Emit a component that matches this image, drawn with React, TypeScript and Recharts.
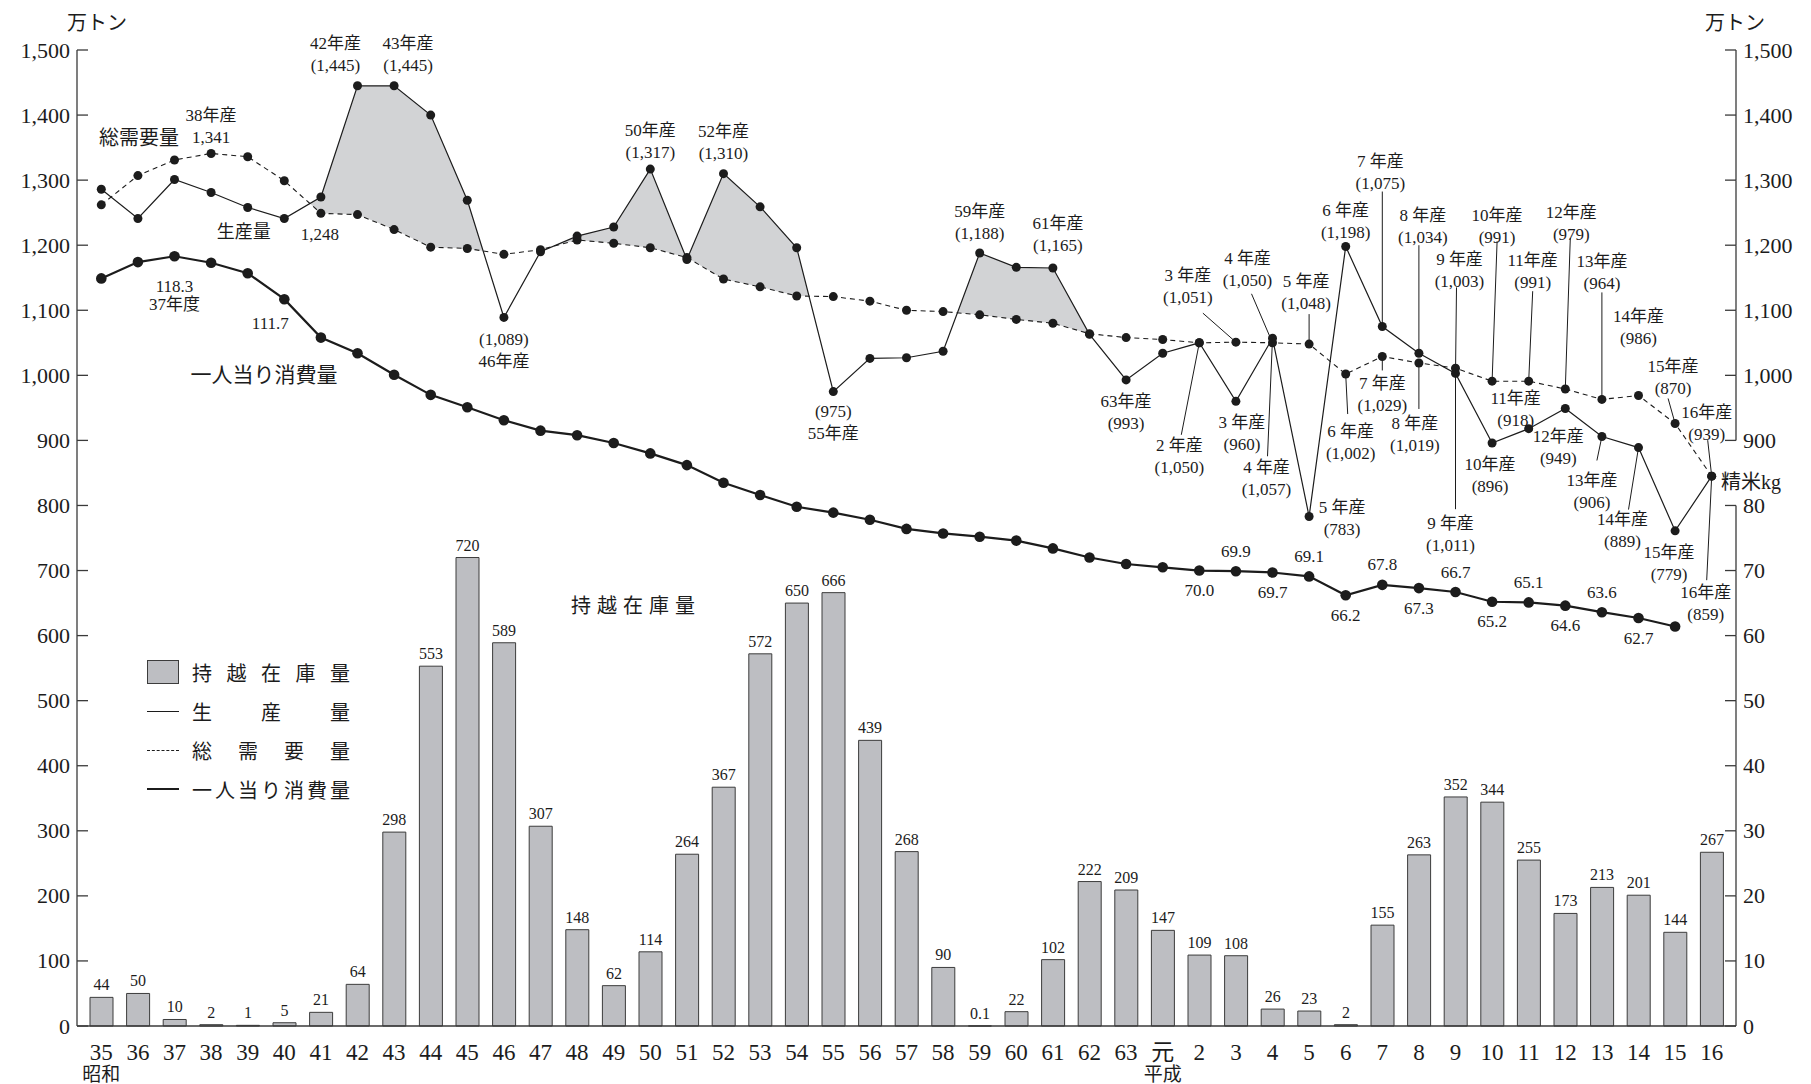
import React from "react";
import { ComposedChart, Bar, Line, Area, XAxis, YAxis, LabelList } from "recharts";

const YEARS = [
  "35", "36", "37", "38", "39", "40", "41", "42", "43", "44",
  "45", "46", "47", "48", "49", "50", "51", "52", "53", "54",
  "55", "56", "57", "58", "59", "60", "61", "62", "63",
  "元", "2", "3", "4", "5", "6", "7", "8", "9", "10",
  "11", "12", "13", "14", "15", "16",
];

// 持越在庫量 (万トン)
const STOCK = [
  44, 50, 10, 2, 1, 5, 21, 64, 298, 553,
  720, 589, 307, 148, 62, 114, 264, 367, 572, 650,
  666, 439, 268, 90, 0.1, 22, 102, 222, 209,
  147, 109, 108, 26, 23, 2, 155, 263, 352, 344,
  255, 173, 213, 201, 144, 267,
];

// 生産量 (万トン)
const PRODUCTION = [
  1286, 1241, 1301, 1281, 1258, 1241, 1274, 1445, 1445, 1400,
  1269, 1089, 1190, 1214, 1228, 1317, 1178, 1310, 1259, 1196,
  975, 1026, 1027, 1037, 1188, 1166, 1165, 1063, 993,
  1034, 1050, 960, 1057, 783, 1198, 1075, 1034, 1003, 896,
  918, 949, 906, 889, 761, 845,
];

// 総需要量 (万トン)
const DEMAND = [
  1262, 1307, 1331, 1341, 1336, 1299, 1249, 1247, 1224, 1197,
  1195, 1186, 1193, 1208, 1203, 1196, 1181, 1148, 1136, 1122,
  1121, 1114, 1100, 1098, 1093, 1086, 1080, 1064, 1058,
  1055, 1050, 1051, 1050, 1048, 1002, 1029, 1019, 1011, 991,
  991, 979, 963, 969, 926, 845,
];

// 一人当り消費量 (精米kg)
const PER_CAPITA: (number | null)[] = [
  114.9, 117.4, 118.3, 117.3, 115.7, 111.7, 105.8, 103.4, 100.1, 97.0,
  95.1, 93.1, 91.5, 90.8, 89.6, 88.0, 86.2, 83.5, 81.6, 79.8,
  78.9, 77.8, 76.4, 75.7, 75.2, 74.6, 73.4, 72.0, 71.0,
  70.5, 70.0, 69.9, 69.7, 69.1, 66.2, 67.8, 67.3, 66.7, 65.2,
  65.1, 64.6, 63.6, 62.7, 61.4, null,
];

const LEFT_TICKS = [0, 100, 200, 300, 400, 500, 600, 700, 800, 900, 1000, 1100, 1200, 1300, 1400, 1500];
const RIGHT_TICKS = [0, 10, 20, 30, 40, 50, 60, 70, 80, 90, 100, 110, 120, 130, 140, 150];

// shaded surplus only drawn for 昭和40〜62
const SHADE_FROM = 5;
const SHADE_TO = 27;

const data = YEARS.map((year, i) => ({
  year,
  stock: STOCK[i],
  prod: PRODUCTION[i],
  demand: DEMAND[i],
  percap: PER_CAPITA[i],
  shadeTop: i >= SHADE_FROM && i <= SHADE_TO ? PRODUCTION[i] : null,
  // the white mask reaches one year further on each side so no grey edge shows
  shadeBase: i >= SHADE_FROM - 1 && i <= SHADE_TO + 1 ? DEMAND[i] : null,
}));

type Note = {
  i: number;
  t: string[];
  dx: number;
  dy: number;
  gap?: number;
  size?: number;
  lead?: [number, number];
};

const PROD_NOTES: Note[] = [
  { i: 4, t: ["生産量"], dx: -4, dy: 25, size: 18 },
  { i: 7, t: ["42年産", "(1,445)"], dx: -22, dy: -42 },
  { i: 8, t: ["43年産", "(1,445)"], dx: 14, dy: -42 },
  { i: 11, t: ["(1,089)", "46年産"], dx: 0, dy: 22 },
  { i: 15, t: ["50年産", "(1,317)"], dx: 0, dy: -39 },
  { i: 17, t: ["52年産", "(1,310)"], dx: 0, dy: -42 },
  { i: 20, t: ["(975)", "55年産"], dx: 0, dy: 20 },
  { i: 24, t: ["59年産", "(1,188)"], dx: 0, dy: -42 },
  { i: 26, t: ["61年産", "(1,165)"], dx: 5, dy: -44 },
  { i: 28, t: ["63年産", "(993)"], dx: 0, dy: 22 },
  { i: 30, t: ["2 年産", "(1,050)"], dx: -20, dy: 103, lead: [-18, 92] },
  { i: 31, t: ["3 年産", "(960)"], dx: 6, dy: 21 },
  { i: 32, t: ["4 年産", "(1,057)"], dx: -6, dy: 129, lead: [-5, 118] },
  { i: 33, t: ["5 年産", "(783)"], dx: 33, dy: -9 },
  { i: 34, t: ["6 年産", "(1,198)"], dx: 0, dy: -36 },
  { i: 35, t: ["7 年産", "(1,075)"], dx: -2, dy: -165, lead: [0, -135] },
  { i: 36, t: ["8 年産", "(1,034)"], dx: 4, dy: -138, lead: [0, -108] },
  { i: 37, t: ["9 年産", "(1,003)"], dx: 4, dy: -114, lead: [1, -86] },
  { i: 38, t: ["10年産", "(896)"], dx: -2, dy: 21 },
  { i: 39, t: ["11年産", "(918)"], dx: -13, dy: -30 },
  { i: 40, t: ["12年産", "(949)"], dx: -7, dy: 28 },
  { i: 41, t: ["13年産", "(906)"], dx: -10, dy: 44, lead: [-5, 24] },
  { i: 42, t: ["14年産", "(889)"], dx: -16, dy: 72, lead: [-10, 62] },
  { i: 43, t: ["15年産", "(779)"], dx: -6, dy: 22 },
  { i: 44, t: ["16年産", "(859)"], dx: -6, dy: 116, lead: [-5, 104] },
];

const DEMAND_NOTES: Note[] = [
  { i: 1, t: ["総需要量"], dx: 1, dy: -38, size: 20 },
  { i: 3, t: ["38年産", "1,341"], dx: 0, dy: -38 },
  { i: 6, t: ["1,248"], dx: -1, dy: 21 },
  { i: 31, t: ["3 年産", "(1,051)"], dx: -48, dy: -67, lead: [-33, -29] },
  { i: 32, t: ["4 年産", "(1,050)"], dx: -25, dy: -84, lead: [-21, -49] },
  { i: 33, t: ["5 年産", "(1,048)"], dx: -3, dy: -63, lead: [0, -30] },
  { i: 34, t: ["6 年産", "(1,002)"], dx: 5, dy: 57, lead: [2, 40] },
  { i: 35, t: ["7 年産", "(1,029)"], dx: 0, dy: 27, lead: [0, 14] },
  { i: 36, t: ["8 年産", "(1,019)"], dx: -4, dy: 61, lead: [0, 46] },
  { i: 37, t: ["9 年産", "(1,011)"], dx: -5, dy: 155, lead: [0, 141] },
  { i: 38, t: ["10年産", "(991)"], dx: 5, dy: -166, lead: [5, -140] },
  { i: 39, t: ["11年産", "(991)"], dx: 4, dy: -121, lead: [4, -90] },
  { i: 40, t: ["12年産", "(979)"], dx: 6, dy: -176, lead: [5, -151] },
  { i: 41, t: ["13年産", "(964)"], dx: 0, dy: -138, lead: [0, -107] },
  { i: 42, t: ["14年産", "(986)"], dx: 0, dy: -79 },
  { i: 43, t: ["15年産", "(870)"], dx: -2, dy: -57, lead: [-7, -25] },
  { i: 44, t: ["16年産", "(939)"], dx: -5, dy: -64, lead: [-4, -36] },
];

const PERCAP_NOTES: Note[] = [
  { i: 2, t: ["118.3", "37年度"], dx: 0, dy: 30, gap: 18 },
  { i: 5, t: ["111.7"], dx: -14, dy: 24 },
  { i: 8, t: ["一人当り消費量"], dx: -130, dy: 0, size: 21 },
  { i: 30, t: ["70.0"], dx: 0, dy: 20 },
  { i: 31, t: ["69.9"], dx: 0, dy: -20 },
  { i: 32, t: ["69.7"], dx: 0, dy: 20 },
  { i: 33, t: ["69.1"], dx: 0, dy: -20 },
  { i: 34, t: ["66.2"], dx: 0, dy: 20 },
  { i: 35, t: ["67.8"], dx: 0, dy: -20 },
  { i: 36, t: ["67.3"], dx: 0, dy: 20 },
  { i: 37, t: ["66.7"], dx: 0, dy: -20 },
  { i: 38, t: ["65.2"], dx: 0, dy: 20 },
  { i: 39, t: ["65.1"], dx: 0, dy: -20 },
  { i: 40, t: ["64.6"], dx: 0, dy: 20 },
  { i: 41, t: ["63.6"], dx: 0, dy: -20 },
  { i: 42, t: ["62.7"], dx: 0, dy: 20 },
];

const W = 1811;
const H = 1084;
const TOP = 50;
const X_AXIS_H = 58;
const STEP = (H - TOP - X_AXIS_H) / 15;
const GAP = 7;

const INK = "#1c1c1c";
const AXIS = "#3a3a3a";
const BAR_FILL = "#bdbec2";
const SHADE = "#d2d3d5";
const FONT = '"Liberation Serif", "DejaVu Serif", "Noto Sans CJK JP", serif';

const fmt = (v: number) => v.toLocaleString("en-US");

function renderNote(n: Note, cx: number, cy: number) {
  const gap = n.gap ?? 22;
  const size = n.size ?? 17;
  return (
    <g>
      {n.lead && (
        <line
          x1={cx}
          y1={cy}
          x2={cx + n.lead[0]}
          y2={cy + n.lead[1]}
          stroke={INK}
          strokeWidth={1}
          strokeDasharray="none"
        />
      )}
      {n.t.map((s, k) => (
        <text
          key={k}
          x={cx + n.dx}
          y={cy + n.dy + k * gap}
          textAnchor="middle"
          dominantBaseline="central"
          fontSize={size}
          fill={INK}
          fontFamily={FONT}
        >
          {s}
        </text>
      ))}
    </g>
  );
}

function makeDot(notes: Note[], r: number) {
  return (p: any) => {
    const { cx, cy, index, value } = p;
    if (cx == null || cy == null || value == null || Number.isNaN(cy)) {
      return <g key={`d${index}`} />;
    }
    const n = notes.find((k) => k.i === index);
    return (
      <g key={`d${index}`}>
        <circle cx={cx} cy={cy} r={r} fill={INK} stroke="none" />
        {n && renderNote(n, cx, cy)}
      </g>
    );
  };
}

function LeftTick(props: any) {
  const { x, y, payload } = props;
  const ax = x + GAP;
  return (
    <g>
      <line x1={ax} x2={ax + 11} y1={y} y2={y} stroke={AXIS} strokeWidth={1.3} />
      <text x={x} y={y} textAnchor="end" dominantBaseline="central" fontSize={22} fill={INK} fontFamily={FONT}>
        {fmt(payload.value)}
      </text>
    </g>
  );
}

function RightTick(props: any) {
  const { x, y, payload } = props;
  const v = payload.value as number;
  const ax = x - GAP;
  const seg = v < 80 || (v >= 90 && v < 150);
  const label = v <= 80 ? String(v) : fmt(v * 10);
  return (
    <g>
      <line x1={ax - 11} x2={ax} y1={y} y2={y} stroke={AXIS} strokeWidth={1.3} />
      {seg && <line x1={ax} x2={ax} y1={y} y2={y - STEP} stroke={AXIS} strokeWidth={1.3} />}
      <text x={x} y={y} textAnchor="start" dominantBaseline="central" fontSize={22} fill={INK} fontFamily={FONT}>
        {label}
      </text>
    </g>
  );
}

function YearTick(props: any) {
  const { x, y, payload } = props;
  const v = payload.value as string;
  const era = v === "35" ? "昭和" : v === "元" ? "平成" : null;
  return (
    <g>
      <text x={x} y={y + 26} textAnchor="middle" dominantBaseline="central" fontSize={23} fill={INK} fontFamily={FONT}>
        {v}
      </text>
      {era && (
        <text x={x} y={y + 48} textAnchor="middle" dominantBaseline="central" fontSize={19} fill={INK} fontFamily={FONT}>
          {era}
        </text>
      )}
    </g>
  );
}

const abs = (left: number, top: number, size: number, extra: React.CSSProperties = {}): React.CSSProperties => ({
  position: "absolute",
  left,
  top,
  fontSize: size,
  fontFamily: FONT,
  color: INK,
  lineHeight: 1,
  whiteSpace: "nowrap",
  ...extra,
});

function LegendRow({ y, mark, label }: { y: number; mark: React.ReactNode; label: string }) {
  return (
    <div style={{ position: "absolute", left: 147, top: y - 12, height: 24, width: 205, display: "flex", alignItems: "center" }}>
      <div style={{ width: 32, height: 24, display: "flex", alignItems: "center" }}>{mark}</div>
      <div
        style={{
          marginLeft: 13,
          width: 158,
          display: "flex",
          justifyContent: "space-between",
          fontSize: 20,
          fontFamily: FONT,
          color: INK,
        }}
      >
        {label.split("").map((c, k) => (
          <span key={k}>{c}</span>
        ))}
      </div>
    </div>
  );
}

export default function App() {
  return (
    <div style={{ position: "absolute", left: 0, top: 0, width: W, height: H, background: "#fff", overflow: "hidden" }}>
      <ComposedChart width={W} height={H} data={data} margin={{ top: TOP, right: 0, bottom: 0, left: 0 }}>
        <XAxis
          dataKey="year"
          height={X_AXIS_H}
          padding={{ left: 6, right: 6 }}
          interval={0}
          tickLine={false}
          tickSize={0}
          tickMargin={0}
          axisLine={{ stroke: AXIS, strokeWidth: 1.5 }}
          tick={<YearTick />}
        />
        <YAxis
          yAxisId="t"
          orientation="left"
          width={77}
          domain={[0, 1500]}
          ticks={LEFT_TICKS}
          interval={0}
          tickLine={false}
          tickSize={0}
          tickMargin={GAP}
          axisLine={{ stroke: AXIS, strokeWidth: 1.3 }}
          tick={<LeftTick />}
        />
        <YAxis
          yAxisId="kg"
          orientation="right"
          width={75}
          domain={[0, 150]}
          ticks={RIGHT_TICKS}
          interval={0}
          tickLine={false}
          tickSize={0}
          tickMargin={GAP}
          axisLine={false}
          tick={<RightTick />}
        />
        <Area
          yAxisId="t"
          type="linear"
          dataKey="shadeTop"
          fill={SHADE}
          fillOpacity={1}
          stroke="none"
          dot={false}
          activeDot={false}
          isAnimationActive={false}
        />
        <Area
          yAxisId="t"
          type="linear"
          dataKey="shadeBase"
          fill="#ffffff"
          fillOpacity={1}
          stroke="none"
          dot={false}
          activeDot={false}
          isAnimationActive={false}
        />
        <Bar yAxisId="t" dataKey="stock" barSize={23} fill={BAR_FILL} stroke="#3c3c3c" strokeWidth={1} isAnimationActive={false}>
          <LabelList dataKey="stock" position="top" offset={7} fontSize={16} fill={INK} fontFamily={FONT} />
        </Bar>
        <Line
          yAxisId="t"
          type="linear"
          dataKey="demand"
          stroke={INK}
          strokeWidth={1.1}
          strokeDasharray="5 4"
          dot={makeDot(DEMAND_NOTES, 4.5)}
          activeDot={false}
          isAnimationActive={false}
        />
        <Line
          yAxisId="t"
          type="linear"
          dataKey="prod"
          stroke={INK}
          strokeWidth={1.2}
          dot={makeDot(PROD_NOTES, 4.5)}
          activeDot={false}
          isAnimationActive={false}
        />
        <Line
          yAxisId="kg"
          type="linear"
          dataKey="percap"
          stroke={INK}
          strokeWidth={2.2}
          dot={makeDot(PERCAP_NOTES, 5.3)}
          activeDot={false}
          isAnimationActive={false}
        />
      </ComposedChart>

      <div style={abs(97, 23, 20, { transform: "translate(-50%, -50%)" })}>万トン</div>
      <div style={abs(1735, 23, 20, { transform: "translate(-50%, -50%)" })}>万トン</div>
      <div style={abs(1721, 482, 20, { transform: "translateY(-50%)" })}>精米kg</div>
      <div style={abs(636, 606, 20, { transform: "translate(-50%, -50%)", letterSpacing: 6 })}>持越在庫量</div>

      <LegendRow
        y={672}
        label="持越在庫量"
        mark={<div style={{ width: 30, height: 22, background: BAR_FILL, border: "1px solid #3c3c3c" }} />}
      />
      <LegendRow y={711} label="生産量" mark={<div style={{ width: 32, borderTop: `1.2px solid ${INK}` }} />} />
      <LegendRow y={750} label="総需要量" mark={<div style={{ width: 32, borderTop: `1.2px dashed ${INK}` }} />} />
      <LegendRow y={789} label="一人当り消費量" mark={<div style={{ width: 32, borderTop: `2.2px solid ${INK}` }} />} />
    </div>
  );
}
